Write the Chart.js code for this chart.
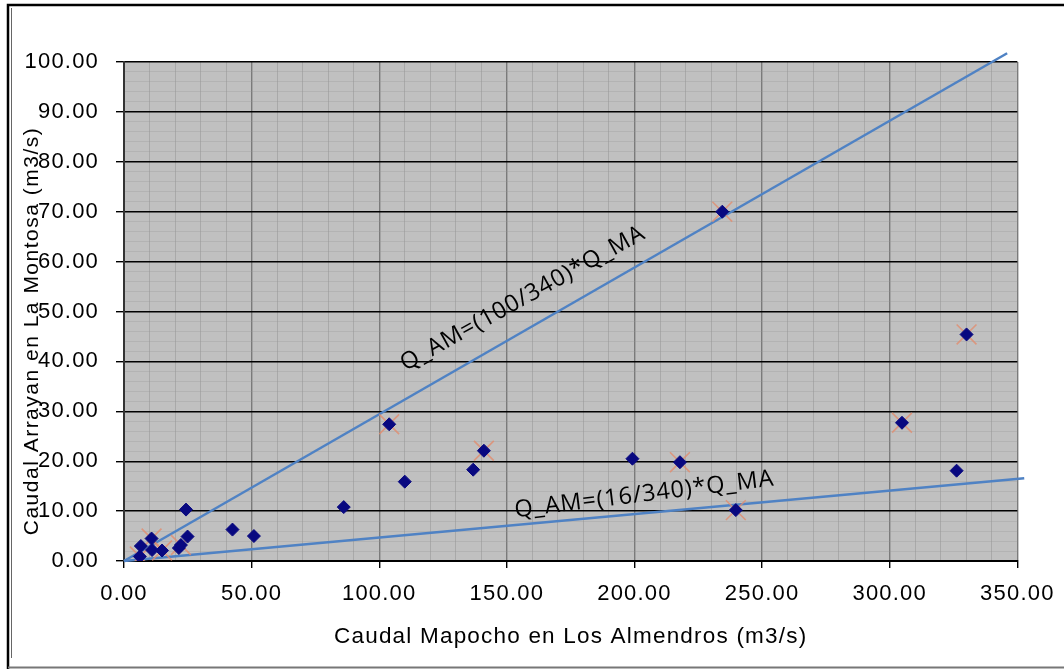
<!DOCTYPE html>
<html>
<head>
<meta charset="utf-8">
<script src="https://cdn.jsdelivr.net/npm/chart.js@4.4.0/dist/chart.umd.min.js"></script>
<style>
  body { margin: 0; background: #fff; }
  canvas { display: block; }
</style>
</head>
<body>
<canvas id="caudales" width="1064" height="669"></canvas>
<script>
// Caudales medidos (m3/s)
const mapochoQ = [6.2, 6.6, 10.8, 11.0, 14.9, 21.5, 22.3, 24.3, 24.9, 42.5, 50.9, 86.1, 103.9, 110.0, 136.8, 141.0, 199.2, 217.8, 234.4, 239.7, 304.8, 326.2, 330.1];
const arrayanQ = [0.9, 3.0, 4.5, 2.2, 2.1, 2.6, 3.2, 10.3, 4.9, 6.3, 5.0, 10.8, 27.4, 15.9, 18.3, 22.1, 20.5, 19.8, 70.0, 10.2, 27.7, 18.1, 45.4];

// Puntos que llevan además la cruz
const marcadosMapocho = [6.2, 10.8, 14.9, 22.3, 103.9, 141.0, 217.8, 234.4, 239.7, 304.8, 330.1];
const marcadosArrayan = [0.9, 4.5, 2.1, 3.2, 27.4, 22.1, 19.8, 70.0, 10.2, 27.7, 45.4];

// Rectas Q_AM = k * Q_MA (extremos)
const rectaSupX = [0, 346];
const rectaSupY = [0, 101.76];   // k = 100/340
const rectaInfX = [0, 352.7];
const rectaInfY = [0, 16.6];     // k = 16/340
const textoSup = 'Q_AM=(100/340)*Q_MA';
const textoInf = 'Q_AM=(16/340)*Q_MA';

const tituloX = 'Caudal Mapocho en Los Almendros (m3/s)';
const tituloY = 'Caudal Arrayan en La Montosa (m3/s)';

const ticksX = [0, 50, 100, 150, 200, 250, 300, 350];
const ticksY = [0, 10, 20, 30, 40, 50, 60, 70, 80, 90, 100];

const pares = (xs, ys) => xs.map((v, i) => ({ x: v, y: ys[i] }));

const fuente = '"Liberation Sans", Arial, sans-serif';

// fondo gris del área de trazado + marco de la figura + título del eje Y
const fondo = {
  id: 'fondo',
  beforeDraw(chart) {
    const { ctx, chartArea: a } = chart;
    ctx.save();
    ctx.fillStyle = '#c0c0c0';
    ctx.fillRect(a.left, a.top, a.right - a.left, a.bottom - a.top);
    ctx.restore();
    ctx.letterSpacing = '1.2px';
  },
  afterDraw(chart) {
    const ctx = chart.ctx;
    ctx.save();
    ctx.letterSpacing = '1.5px';
    ctx.font = '21px ' + fuente;
    ctx.fillStyle = '#000';
    ctx.textAlign = 'center';
    ctx.textBaseline = 'middle';
    ctx.translate(32, 331);
    ctx.rotate(-Math.PI / 2);
    ctx.fillText(tituloY, 0, 0);
    ctx.restore();

    ctx.save();
    ctx.letterSpacing = '0px';
    ctx.strokeStyle = '#000';
    ctx.lineWidth = 2.5;
    ctx.beginPath();
    ctx.moveTo(8, 669); ctx.lineTo(8, 5); ctx.lineTo(1064, 5);
    ctx.stroke();
    ctx.strokeStyle = '#666';
    ctx.lineWidth = 1;
    ctx.beginPath();
    ctx.moveTo(11.5, 8); ctx.lineTo(11.5, 658);
    ctx.stroke();
    ctx.strokeStyle = '#777';
    ctx.lineWidth = 2;
    ctx.beginPath();
    ctx.moveTo(8, 667.5); ctx.lineTo(1064, 667.5);
    ctx.stroke();
    ctx.restore();
  }
};

// rótulos de las rectas
const notas = {
  id: 'notas',
  afterDatasetsDraw(chart) {
    const { ctx, scales: { x, y } } = chart;
    const rotulos = [
      { x: 156.3, y: 52.6, ang: -29, txt: textoSup },
      { x: 203.9, y: 13.3, ang: -7, txt: textoInf }
    ];
    ctx.save();
    ctx.font = '23.5px "Open Sans", sans-serif';
    ctx.letterSpacing = '0.9px';
    ctx.fillStyle = '#000';
    ctx.textAlign = 'center';
    ctx.textBaseline = 'middle';
    rotulos.forEach(r => {
      ctx.save();
      ctx.translate(x.getPixelForValue(r.x), y.getPixelForValue(r.y));
      ctx.rotate(r.ang * Math.PI / 180);
      ctx.fillText(r.txt, 0, 0);
      ctx.restore();
    });
    ctx.restore();
  }
};

new Chart(document.getElementById('caudales'), {
  type: 'scatter',
  data: {
    datasets: [
      {
        data: pares(mapochoQ, arrayanQ),
        pointStyle: 'rectRot',
        pointRadius: 6.5,
        backgroundColor: '#080880',
        borderColor: '#080880',
        borderWidth: 1,
        order: 0
      },
      {
        data: pares(marcadosMapocho, marcadosArrayan),
        pointStyle: 'crossRot',
        pointRadius: 14,
        borderColor: 'rgba(225,140,110,0.8)',
        borderWidth: 1.6,
        order: 1
      },
      {
        data: pares(rectaSupX, rectaSupY),
        showLine: true,
        pointRadius: 0,
        borderColor: '#4f82c4',
        borderWidth: 2.5,
        clip: false,
        order: 2
      },
      {
        data: pares(rectaInfX, rectaInfY),
        showLine: true,
        pointRadius: 0,
        borderColor: '#4f82c4',
        borderWidth: 2.5,
        clip: false,
        order: 2
      }
    ]
  },
  options: {
    responsive: false,
    animation: false,
    layout: { padding: { top: 62, right: 44, left: 0, bottom: 0 } },
    plugins: {
      legend: { display: false },
      tooltip: { enabled: false }
    },
    scales: {
      x: {
        type: 'linear',
        min: 0,
        max: 350,
        afterFit: s => { s.height = 108; },
        ticks: {
          stepSize: 10,
          autoSkip: false,
          maxRotation: 0,
          minRotation: 0,
          padding: 13,
          color: '#000',
          font: { family: fuente, size: 22 },
          callback: v => ticksX.includes(v) ? v.toFixed(2) : ''
        },
        grid: {
          color: c => (c.tick && ticksX.includes(c.tick.value)) ? '#7a7a7a' : 'rgba(150,150,150,0.55)',
          lineWidth: c => (c.tick && ticksX.includes(c.tick.value)) ? 1.4 : 1,
          tickColor: c => (c.tick && ticksX.includes(c.tick.value)) ? '#000' : 'rgba(0,0,0,0)',
          tickLength: 7
        },
        border: { color: '#000', width: 2 },
        title: {
          display: true,
          text: tituloX,
          color: '#000',
          font: { family: fuente, size: 22.5 },
          padding: { top: 0, bottom: 19 }
        }
      },
      y: {
        type: 'linear',
        min: 0,
        max: 100,
        afterFit: s => { s.width = 124; },
        ticks: {
          stepSize: 2,
          autoSkip: false,
          padding: 17,
          color: '#000',
          font: { family: fuente, size: 22 },
          callback: v => ticksY.includes(v) ? v.toFixed(2) : ''
        },
        grid: {
          color: c => (c.tick && ticksY.includes(c.tick.value)) ? '#000' : 'rgba(150,150,150,0.3)',
          lineWidth: c => (c.tick && ticksY.includes(c.tick.value)) ? 1.4 : 1,
          tickColor: c => (c.tick && ticksY.includes(c.tick.value)) ? '#000' : 'rgba(0,0,0,0)',
          tickLength: 8
        },
        border: { color: '#333', width: 2 }
      }
    }
  },
  plugins: [fondo, notas]
});
</script>
</body>
</html>
